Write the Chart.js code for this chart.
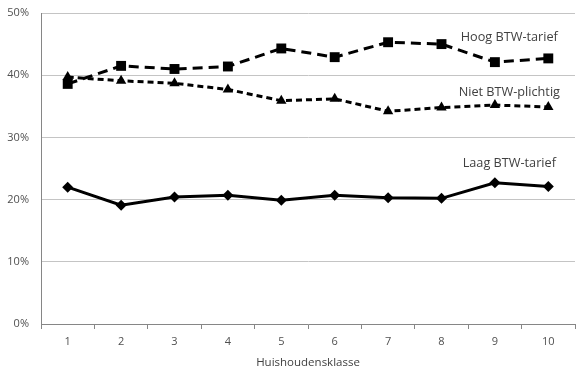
<!DOCTYPE html>
<html>
<head>
<meta charset="utf-8">
<script src="https://cdn.jsdelivr.net/npm/chart.js@4.4.1/dist/chart.umd.min.js"></script>
<style>
  html, body { margin: 0; padding: 0; background: #fff; }
  #wrap { width: 584px; height: 370px; }
</style>
</head>
<body>
<div id="wrap"><canvas id="chart"></canvas></div>
<script>
const klassen = ['1', '2', '3', '4', '5', '6', '7', '8', '9', '10'];
const hoogTarief = [38.6, 41.5, 41.0, 41.4, 44.3, 42.9, 45.3, 45.0, 42.1, 42.7];
const nietPlichtig = [39.7, 39.1, 38.7, 37.7, 35.9, 36.2, 34.2, 34.8, 35.2, 34.9];
const laagTarief = [22.0, 19.1, 20.4, 20.7, 19.9, 20.7, 20.3, 20.2, 22.7, 22.1];
const yTicks = [0, 10, 20, 30, 40, 50];

// label per reeks: [tekst, y-waarde van het label]
const seriesLabels = [
  ['Hoog BTW-tarief', 46.0],
  ['Niet BTW-plichtig', 37.3],
  ['Laag BTW-tarief', 25.9]
];

const textColor = '#404040';
const tickColor = '#505050';
const fontFam = '"Open Sans", "Liberation Sans", sans-serif';

const labelPlugin = {
  id: 'seriesLabels',
  afterDatasetsDraw(chart) {
    const ctx = chart.ctx;
    const xs = chart.scales.x, ys = chart.scales.y;
    ctx.save();
    ctx.font = '12.7px ' + fontFam;
    ctx.fillStyle = textColor;
    ctx.textAlign = 'center';
    ctx.textBaseline = 'middle';
    seriesLabels.forEach(([txt, val]) => {
      ctx.fillText(txt, xs.getPixelForValue(8.27), ys.getPixelForValue(val));
    });
    ctx.restore();
  }
};

const ctx = document.getElementById('chart');
const myChart = new Chart(ctx, {
  type: 'line',
  data: {
    labels: klassen,
    datasets: [{
      label: 'Hoog BTW-tarief',
      data: hoogTarief,
      borderColor: '#000',
      backgroundColor: '#000',
      borderWidth: 3,
      borderDash: [10, 6],
      pointStyle: 'rect',
      pointRadius: 7,
      pointBorderWidth: 0
    }, {
      label: 'Niet BTW-plichtig',
      data: nietPlichtig,
      borderColor: '#000',
      backgroundColor: '#000',
      borderWidth: 3,
      borderDash: [6, 4],
      pointStyle: 'triangle',
      pointRadius: 6,
      pointBorderWidth: 0
    }, {
      label: 'Laag BTW-tarief',
      data: laagTarief,
      borderColor: '#000',
      backgroundColor: '#000',
      borderWidth: 3,
      pointStyle: 'rectRot',
      pointRadius: 5.5,
      pointBorderWidth: 0
    }]
  },
  options: {
    responsive: true,
    maintainAspectRatio: false,
    animation: false,
    layout: { padding: { top: 13, right: 9, left: 0, bottom: 0 } },
    plugins: {
      legend: false,
      tooltip: { enabled: false }
    },
    scales: {
      x: {
        offset: true,
        grid: {
          offset: true,
          drawOnChartArea: false,
          drawTicks: true,
          tickLength: 5,
          color: '#868686'
        },
        border: { color: '#868686', width: 1 },
        ticks: {
          color: tickColor,
          font: { family: fontFam, size: 11 },
          padding: 6,
          maxRotation: 0
        },
        title: {
          display: true,
          text: 'Huishoudensklasse',
          color: textColor,
          font: { family: fontFam, size: 11.5 },
          padding: { top: 0, bottom: 0 }
        },
        afterFit(scale) { scale.height = 46; }
      },
      y: {
        min: 0,
        max: 50,
        afterBuildTicks(scale) {
          scale.ticks = yTicks.map(v => ({ value: v }));
        },
        grid: {
          color: '#c4c4c4',
          lineWidth: 1,
          drawTicks: true,
          tickLength: 8,
          tickColor: 'rgba(0,0,0,0)'
        },
        border: { color: '#868686', width: 1 },
        ticks: {
          color: tickColor,
          font: { family: fontFam, size: 11 },
          padding: 4,
          callback: v => v + '%'
        },
        afterFit(scale) { scale.width = 41; }
      }
    }
  },
  plugins: [labelPlugin]
});
</script>
</body>
</html>
